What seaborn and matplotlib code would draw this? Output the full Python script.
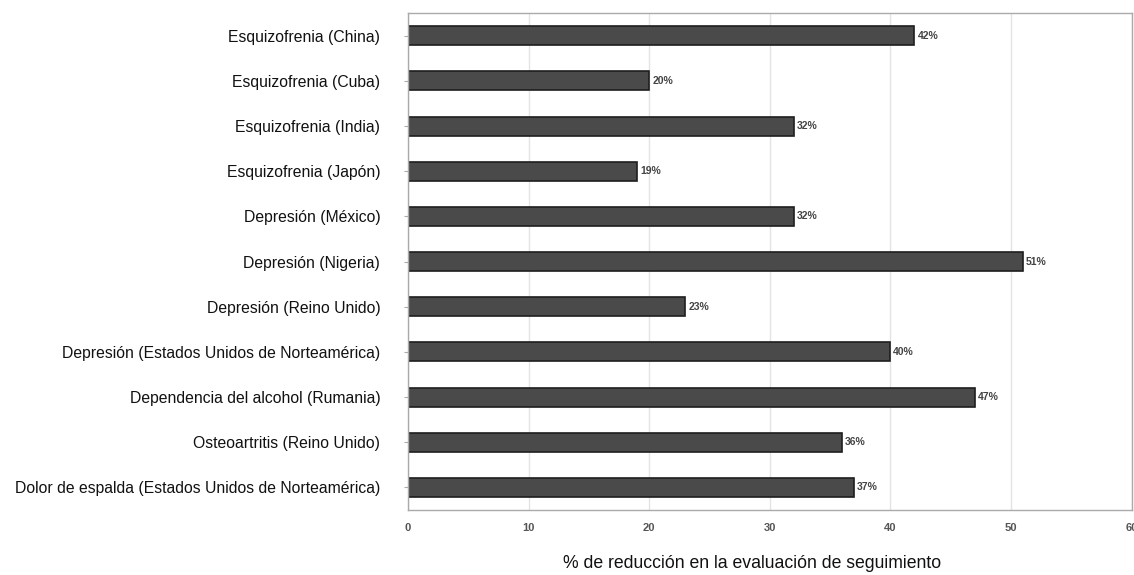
import matplotlib
matplotlib.use('Agg')
import matplotlib.pyplot as plt
import seaborn as sns
import pandas as pd

# Datos
categorias = [
    'Esquizofrenia (China)',
    'Esquizofrenia (Cuba)',
    'Esquizofrenia (India)',
    'Esquizofrenia (Japón)',
    'Depresión (México)',
    'Depresión (Nigeria)',
    'Depresión (Reino Unido)',
    'Depresión (Estados Unidos de Norteamérica)',
    'Dependencia del alcohol (Rumania)',
    'Osteoartritis (Reino Unido)',
    'Dolor de espalda (Estados Unidos de Norteamérica)',
]
valores = [42, 20, 32, 19, 32, 51, 23, 40, 47, 36, 37]
xticks = [0, 10, 20, 30, 40, 50, 60]

df = pd.DataFrame({'categoria': categorias, 'valor': valores})

sns.set_style('white')
plt.rcParams['font.family'] = ['Liberation Sans', 'DejaVu Sans']

fig = plt.figure(figsize=(11.34, 5.75), dpi=100)
ax = fig.add_axes([0.3598, 0.113, 0.638, 0.864])

sns.barplot(data=df, y='categoria', x='valor', orient='h', ax=ax,
            color='#4a4a4a', edgecolor='#1e1e1e', linewidth=1.2,
            width=0.42, saturation=1)

# etiquetas de valor al final de cada barra
for i, v in enumerate(valores):
    ax.text(v + 0.25, i, f'{v}%', va='center', ha='left',
            fontsize=7.5, fontweight='bold', color='#444444')

ax.set_xlim(0, 60)
ax.set_xticks(xticks)
ax.set_xticklabels([str(t) for t in xticks], fontsize=8, fontweight='bold',
                   color='#555555')
ax.xaxis.grid(True, color='#e4e4e4', linewidth=1)
ax.set_axisbelow(True)
ax.tick_params(axis='x', length=0, pad=9)
ax.tick_params(axis='y', length=3, width=0.8, color='#aaaaaa', pad=17,
               labelsize=11.3, left=True)
for lab in ax.get_yticklabels():
    lab.set_color('#111111')

for s in ax.spines.values():
    s.set_color('#aaaaaa')
    s.set_linewidth(1)

ax.set_ylabel('')
ax.set_xlabel('% de reducción en la evaluación de seguimiento',
              fontsize=12.7, color='#111111')
ax.xaxis.set_label_coords(0.475, -0.09)

plt.savefig('out.png', dpi=100)
plt.close()
